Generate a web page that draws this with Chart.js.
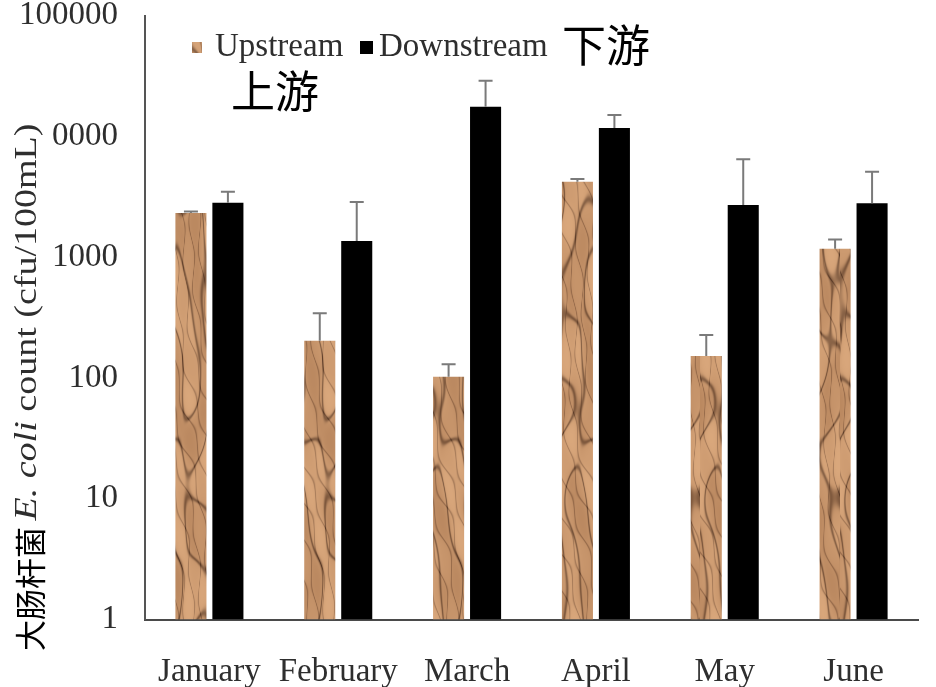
<!DOCTYPE html>
<html><head><meta charset="utf-8">
<script src="https://cdn.jsdelivr.net/npm/chart.js@4.4.1/dist/chart.umd.min.js"></script>
<style>html,body{margin:0;padding:0;background:#fff;overflow:hidden}</style>
</head><body>
<canvas id="c" width="936" height="687" style="width:936px;height:687px;display:block"></canvas>
<script>
const months = ['January', 'February', 'March', 'April', 'May', 'June'];
const seriesNames = ['Upstream', 'Downstream'];
const upstream = [2320, 203, 102, 4200, 152, 1170];
const upstreamErr = [60, 140, 28, 230, 74, 230];
const downstream = [2820, 1360, 17600, 11700, 2700, 2790];
const downstreamErr = [660, 1500, 11200, 3300, 3750, 2300];
const yTicks = [1, 10, 100, 1000, 10000, 100000];
const yTitleItalic = 'E. coli';
const yTitleRest = ' count (cfu/100mL)';
const zhDown = '下游';
const zhUp = '上游';
const zhAxis = '大肠杆菌';

const SERIF = '"Liberation Serif", "Times New Roman", serif';
const CJK = '"Noto Sans CJK SC", "Noto Sans", sans-serif';
const TEXT = '#2e2e2e';

const canvas = document.getElementById('c');
const ctx0 = canvas.getContext('2d');

function paperPattern(ctx) {
  const w = 140, h = 700;
  const c = document.createElement('canvas');
  c.width = w; c.height = h;
  const g = c.getContext('2d');
  const img = g.createImageData(w, h);
  for (let y = 0; y < h; y++) {
    for (let x = 0; x < w; x++) {
      const f = Math.sin(x * 0.19 + 1.7 * Math.sin(y * 0.029)) +
                Math.sin(y * 0.043 + 1.3 * Math.sin(x * 0.11 + y * 0.013)) +
                0.6 * Math.sin(x * 0.05 - y * 0.067 + 0.8 * Math.sin(y * 0.021));
      const f2 = Math.sin(x * 0.31 - y * 0.052 + 2 * Math.sin(y * 0.017 + x * 0.04)) +
                 0.7 * Math.sin(y * 0.09 + x * 0.07);
      const crease = Math.exp(-(f * f) / 0.05);
      const crease2 = Math.exp(-(f2 * f2) / 0.03);
      const shade = Math.tanh(f * 1.2) * 0.5 + Math.tanh(f2) * 0.3;
      const r = 202 + 20 * shade - 70 * crease - 40 * crease2;
      const gg = 152 + 20 * shade - 58 * crease - 34 * crease2;
      const b = 110 + 18 * shade - 44 * crease - 26 * crease2;
      const i = (y * w + x) * 4;
      img.data[i] = r; img.data[i + 1] = gg; img.data[i + 2] = b; img.data[i + 3] = 255;
    }
  }
  g.putImageData(img, 0, 0);
  return ctx.createPattern(c, 'repeat');
}
const paper = paperPattern(ctx0);
const errs = [upstreamErr, downstreamErr];

const errorBars = {
  id: 'errorBars',
  afterDatasetsDraw(chart) {
    const ctx = chart.ctx, y = chart.scales.y;
    chart.data.datasets.forEach((ds, i) => {
      chart.getDatasetMeta(i).data.forEach((bar, j) => {
        const top = y.getPixelForValue(ds.data[j] + errs[i][j]);
        ctx.save();
        ctx.strokeStyle = '#7a7a7a';
        ctx.lineWidth = 2;
        ctx.beginPath();
        ctx.moveTo(bar.x, bar.y);
        ctx.lineTo(bar.x, top);
        ctx.moveTo(bar.x - 7, top);
        ctx.lineTo(bar.x + 7, top);
        ctx.stroke();
        ctx.restore();
      });
    });
  }
};

const annotations = {
  id: 'annotations',
  afterDraw(chart) {
    const ctx = chart.ctx;
    ctx.save();
    // legend
    ctx.fillStyle = paper;
    ctx.fillRect(192, 42, 10, 11);
    ctx.fillStyle = '#000';
    ctx.fillRect(360, 41, 13, 13);
    ctx.font = '33px ' + SERIF;
    ctx.fillStyle = TEXT;
    ctx.textBaseline = 'middle';
    ctx.textAlign = 'left';
    ctx.fillText(seriesNames[0], 215, 47);
    ctx.fillText(seriesNames[1], 379, 47);
    // chinese labels
    ctx.fillStyle = '#000';
    ctx.font = '44px ' + CJK;
    ctx.fillText(zhDown, 562, 45);
    ctx.fillText(zhUp, 231, 91);
    // y axis title with white backing
    ctx.fillStyle = '#fff';
    ctx.fillRect(10, 116, 41, 412);
    ctx.translate(28, 322);
    ctx.rotate(-Math.PI / 2);
    ctx.font = 'italic 32px ' + SERIF;
    const w1 = ctx.measureText(yTitleItalic).width;
    ctx.font = '32px ' + SERIF;
    const w2 = ctx.measureText(yTitleRest).width;
    const sx = 397 / (w1 + w2);
    ctx.scale(sx, 1);
    let x = -(w1 + w2) / 2;
    ctx.fillStyle = TEXT;
    ctx.font = 'italic 32px ' + SERIF;
    ctx.fillText(yTitleItalic, x, 0);
    ctx.font = '32px ' + SERIF;
    ctx.fillText(yTitleRest, x + w1, 0);
    ctx.restore();
    ctx.save();
    ctx.translate(30, 589);
    ctx.rotate(-Math.PI / 2);
    ctx.font = '31px ' + CJK;
    ctx.fillStyle = '#000';
    ctx.textAlign = 'center';
    ctx.textBaseline = 'middle';
    ctx.fillText(zhAxis, 0, 0);
    ctx.restore();
  }
};

new Chart(canvas, {
  type: 'bar',
  data: {
    labels: months,
    datasets: [
      { label: seriesNames[0], data: upstream, backgroundColor: paper, borderWidth: 0 },
      { label: seriesNames[1], data: downstream, backgroundColor: '#000000', borderWidth: 0 }
    ]
  },
  options: {
    responsive: false,
    animation: false,
    devicePixelRatio: 1,
    layout: { padding: { top: 15.5, right: 18, left: 0, bottom: 0 } },
    datasets: { bar: { categoryPercentage: 0.574, barPercentage: 0.84 } },
    plugins: { legend: { display: false }, tooltip: { enabled: false } },
    scales: {
      x: {
        grid: { display: false, drawTicks: false },
        border: { display: true, color: '#4a4a4a', width: 2 },
        ticks: { font: { family: SERIF, size: 33 }, color: TEXT, padding: 33, maxRotation: 0, autoSkip: false },
        afterFit(s) { s.height = 67.5; s.paddingLeft = 0; s.paddingRight = 0; }
      },
      y: {
        type: 'logarithmic',
        min: 1, max: 100000,
        grid: { display: false, drawTicks: false },
        border: { display: true, color: '#555', width: 2 },
        afterBuildTicks(s) { s.ticks = yTicks.map(v => ({ value: v })); },
        ticks: { font: { family: SERIF, size: 33 }, color: TEXT, padding: 27, autoSkip: false,
                 callback: (v) => String(v) },
        afterFit(s) { s.width = 145; s.paddingTop = 0; s.paddingBottom = 0; }
      }
    }
  },
  plugins: [errorBars, annotations]
});
</script>
</body></html>
